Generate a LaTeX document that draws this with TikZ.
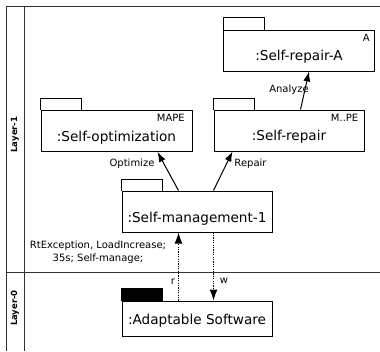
\documentclass[tikz,border=0pt]{standalone}
\usepackage{fontspec}
\setmainfont{DejaVu Sans}
\usetikzlibrary{arrows.meta}

\tikzset{
  frameline/.style={line width=0.8pt, draw=black!80},
  pkg/.style={draw, line width=1pt, fill=white, inner sep=0pt, minimum width=151pt, minimum height=41pt},
  pkgtab/.style={draw, line width=1pt},
  title/.style={inner sep=0pt, anchor=base, font=\fontsize{13.6}{16}\selectfont},
  stereo/.style={inner sep=0pt, anchor=base east, font=\fontsize{10}{12}\selectfont},
  lbl/.style={inner sep=0pt, font=\fontsize{10}{13}\selectfont},
  lane/.style={inner sep=0pt, rotate=90, font=\fontsize{8.5}{10}\bfseries},
  call/.style={line width=1pt, -{Latex[length=10pt,width=7pt]}},
  rw/.style={line width=1pt, dash pattern=on 1.2pt off 1.2pt, -{Latex[length=11pt,width=8pt]}}
}

\begin{document}
\begin{tikzpicture}[x=1pt, y=-1pt]
\useasboundingbox (0,0) rectangle (380,351);

% swimlane frame
\draw[frameline] (380,6) -- (6,6) -- (6,351);
\draw[frameline] (24,6) -- (24,351);
\draw[frameline] (6,272) -- (380,272);
\node[lane] (l1) at (15,134.5) {Layer-1};
\node[lane] (l0) at (15,308) {Layer-0};

% package boxes
\node[pkg] (sra) at (299,50.5) {};
\node[pkg] (so) at (116.5,131) {};
\node[pkg, minimum width=150pt] (sr) at (289,130.5) {};
\node[pkg, minimum width=150pt] (sm) at (197,211.5) {};
\node[pkg, minimum width=150pt, minimum height=35pt] (as) at (197,318.5) {};

% tabs
\draw[pkgtab] (sra.north west) -- ++(0,-12) -- ++(41,0) -- ++(0,12);
\draw[pkgtab] (so.north west) -- ++(0,-12) -- ++(41,0) -- ++(0,12);
\draw[pkgtab] (sr.north west) -- ++(0,-11.5) -- ++(41,0) -- ++(0,11.5);
\draw[pkgtab] (sm.north west) -- ++(0,-11) -- ++(41,0) -- ++(0,11);
\fill[draw, line width=1pt] (as.north west) rectangle ++(41,-12);

% titles
\node[title] (sra-t) at ([yshift=11]sra.south) {:Self-repair-A};
\node[title] (so-t) at ([yshift=11]so.south) {:Self-optimization};
\node[title] (sr-t) at ([yshift=11]sr.south) {:Self-repair};
\node[title] (sm-t) at ([yshift=10.5]sm.south) {:Self-management-1};
\node[title] (as-t) at ([yshift=12.3]as.south) {:Adaptable Software};

% stereotypes
\node[stereo] (sra-s) at ([xshift=-5,yshift=-11.7]sra.north east) {A};
\node[stereo] (so-s) at ([xshift=-7.5,yshift=-11]so.north east) {MAPE};
\node[stereo] (sr-s) at ([xshift=-6,yshift=-11.8]sr.north east) {M..PE};

% calls between managers
\draw[call] ([xshift=57]sm.north west) -- ([xshift=117]so.south west);
\draw[call] ([xshift=92]sm.north west) -- ([xshift=19]sr.south west);
\draw[call] ([xshift=87]sr.north west) -- ([xshift=86]sra.south west);
\node[lbl] (opt) at (132,163.5) {Optimize};
\node[lbl] (rep) at (250.5,163.5) {Repair};
\node[lbl] (ana) at (289,89.5) {Analyze};

% read / write between layers
\draw[rw] ([xshift=57]as.north west) -- ([xshift=57]sm.south west);
\draw[rw] ([xshift=92]sm.south west) -- ([xshift=92]as.north west);
\node[lbl] (r) at (173,281.5) {r};
\node[lbl] (w) at (224,281) {w};

\node[lbl, align=center] (ev) at (98,252) {RtException, LoadIncrease;\\35s; Self-manage;};
\end{tikzpicture}
\end{document}
